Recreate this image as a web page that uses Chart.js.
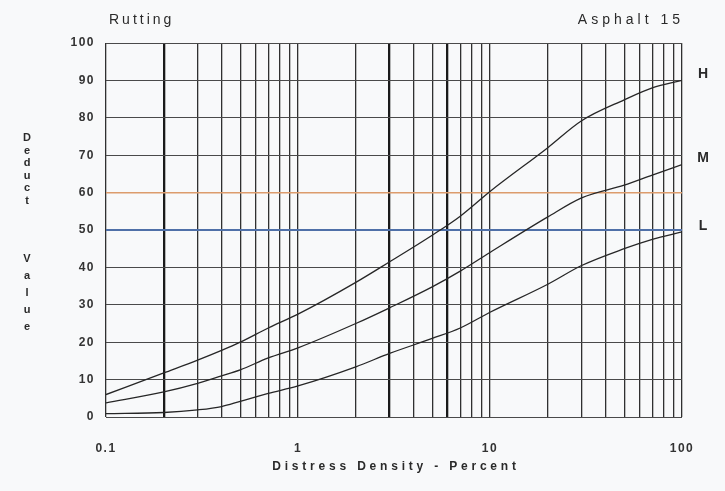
<!DOCTYPE html>
<html>
<head>
<meta charset="utf-8">
<script src="https://cdn.jsdelivr.net/npm/chart.js@4/dist/chart.umd.min.js"></script>
<style>
  body { margin: 0; background: #f8f9fa; }
  #wrap { width: 725px; height: 491px; position: relative; }
</style>
</head>
<body>
<div id="wrap"><canvas id="chart"></canvas></div>
<script>
// density (percent) where the curves were read
const density = [0.1, 0.2, 0.3, 0.4, 0.5, 0.7, 1, 2, 3, 5, 7, 10, 20, 30, 50, 70, 100];
const highValues = [6, 11.8, 15.2, 17.8, 20, 23.8, 27.5, 36, 41.5, 48.6, 53.7, 60.3, 72, 79.2, 84.8, 88, 90];
const mediumValues = [3.8, 6.7, 9, 11, 12.6, 15.8, 18.5, 25, 29.2, 34.8, 39, 44, 53.5, 58.6, 62, 64.7, 67.5];
const lowValues = [0.9, 1.2, 1.9, 2.8, 4.2, 6.3, 8.3, 13.4, 17, 21, 23.8, 28, 35.5, 40.5, 45, 47.5, 49.5];
const severityLabels = ["H", "M", "L"];

// log grid: 1..9 of each decade
const gridValues = [0.1, 0.2, 0.3, 0.4, 0.5, 0.6, 0.7, 0.8, 0.9,
  1, 2, 3, 4, 5, 6, 7, 8, 9,
  10, 20, 30, 40, 50, 60, 70, 80, 90, 100];
const labelledValues = [0.1, 1, 10, 100];
const heavyLines = [0.2, 3, 6];

const FONT = "'Liberation Sans', Arial, sans-serif";

function toPoints(values) {
  return density.map((d, i) => ({ x: d, y: values[i] }));
}

const lineStyle = {
  borderColor: "#262626",
  borderWidth: 1.3,
  pointRadius: 0,
  fill: false,
  cubicInterpolationMode: "monotone",
};

const textPlugin = {
  id: "texts",
  beforeDraw(chart) {
    const c = chart.ctx;
    c.save();
    c.fillStyle = "#f8f9fa";
    c.fillRect(0, 0, chart.width, chart.height);
    c.restore();
    // the scanned lettering is a little spread out
    c.letterSpacing = "1.5px";
  },
  afterDraw(chart) {
    const c = chart.ctx;
    const area = chart.chartArea;
    const y = chart.scales.y;
    c.save();
    c.fillStyle = "#2a2a2a";
    c.textBaseline = "middle";

    c.font = "14px " + FONT;
    c.letterSpacing = "3px";
    c.textAlign = "left";
    c.fillText("Rutting", 109, 20);
    c.letterSpacing = "4px";
    c.textAlign = "right";
    c.fillText("Asphalt 15", area.right + 2, 20);

    // stacked y title
    c.letterSpacing = "0px";
    c.font = "bold 11px " + FONT;
    c.textAlign = "center";
    "Deduct".split("").forEach((ch, i) => c.fillText(ch, 27, 138 + i * 12.6));
    "Value".split("").forEach((ch, i) => c.fillText(ch, 27, 259 + i * 17));

    c.font = "bold 12px " + FONT;
    c.letterSpacing = "3.8px";
    c.textAlign = "center";
    c.fillText("Distress Density - Percent", (area.left + area.right) / 2 + 2, 467);

    // severity labels at the curve ends
    c.letterSpacing = "0px";
    c.font = "bold 14px " + FONT;
    const ends = [highValues, mediumValues, lowValues];
    severityLabels.forEach((lab, i) => {
      const last = ends[i][ends[i].length - 1];
      c.fillText(lab, area.right + 21, y.getPixelForValue(last) - 6);
    });
    c.restore();
  },
};

new Chart(document.getElementById("chart"), {
  type: "line",
  data: {
    datasets: [
      { label: "H", data: toPoints(highValues), ...lineStyle },
      { label: "M", data: toPoints(mediumValues), ...lineStyle },
      { label: "L", data: toPoints(lowValues), ...lineStyle },
    ],
  },
  options: {
    responsive: true,
    maintainAspectRatio: false,
    animation: false,
    layout: { padding: { top: 43, right: 43, left: 0, bottom: 0 } },
    plugins: {
      legend: { display: false },
      tooltip: { enabled: false },
    },
    scales: {
      x: {
        type: "logarithmic",
        min: 0.1,
        max: 100,
        afterBuildTicks: (axis) => {
          axis.ticks = gridValues.map((v) => ({ value: v }));
        },
        afterFit: (axis) => {
          axis.height = 74;
        },
        border: { display: false },
        grid: {
          drawTicks: false,
          color: (ctx) => (heavyLines.includes(ctx.tick && ctx.tick.value) ? "#1a1a1a" : "#303030"),
          lineWidth: (ctx) => (heavyLines.includes(ctx.tick && ctx.tick.value) ? 2.3 : 1.3),
        },
        ticks: {
          autoSkip: false,
          maxRotation: 0,
          padding: 24,
          color: "#333",
          font: { family: FONT, size: 12, weight: "bold" },
          callback: (value) => (labelledValues.includes(value) ? String(value) : ""),
        },
      },
      y: {
        min: 0,
        max: 100,
        afterFit: (axis) => {
          axis.width = 106;
        },
        border: { display: false },
        grid: {
          drawTicks: false,
          color: (ctx) => {
            const v = ctx.tick && ctx.tick.value;
            if (v === 60) return "#dc9c6c";
            if (v === 50) return "#4f70a8";
            return "#4a4a4a";
          },
          lineWidth: (ctx) => {
            const v = ctx.tick && ctx.tick.value;
            if (v === 50) return 2;
            if (v === 60) return 1.5;
            return 1;
          },
        },
        ticks: {
          stepSize: 10,
          padding: 11,
          color: "#333",
          font: { family: FONT, size: 12, weight: "bold" },
        },
      },
    },
  },
  plugins: [textPlugin],
});
</script>
</body>
</html>
